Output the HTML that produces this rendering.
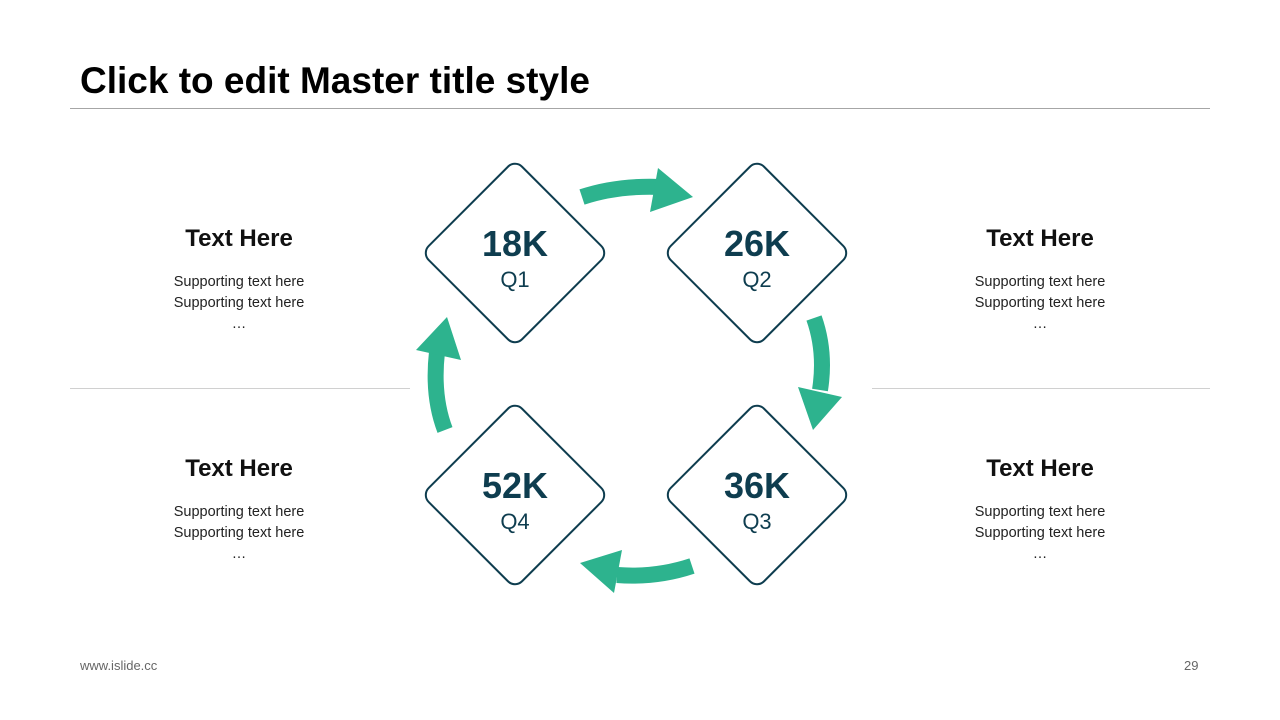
<!DOCTYPE html>
<html><head><meta charset="utf-8"><style>
body{margin:0;width:1280px;height:720px;background:#fff;font-family:"Liberation Sans",sans-serif;position:relative;overflow:hidden}
.t{position:absolute;font-weight:bold;font-size:37px;left:80px;top:60px;color:#000}
.h{position:absolute;width:300px;text-align:center;font-weight:bold;font-size:24px;color:#111}
.s{position:absolute;width:300px;text-align:center;font-size:14.5px;line-height:21px;color:#222}
.f{position:absolute;font-size:13px;color:#666;top:658px}
</style></head><body>
<div class="t">Click to edit Master title style</div>
<div style="position:absolute;left:70px;top:108px;width:1140px;height:1px;background:#a6a6a6"></div>
<div style="position:absolute;left:70px;top:388px;width:340px;height:1px;background:#d0d0d0"></div>
<div style="position:absolute;left:872px;top:388px;width:338px;height:1px;background:#d0d0d0"></div>

<div class="h" style="left:89px;top:225px">Text Here</div>
<div class="s" style="left:89px;top:272px">Supporting text here<br>Supporting text here<br>…</div>
<div class="h" style="left:890px;top:225px">Text Here</div>
<div class="s" style="left:890px;top:272px">Supporting text here<br>Supporting text here<br>…</div>
<div class="h" style="left:89px;top:455px">Text Here</div>
<div class="s" style="left:89px;top:502px">Supporting text here<br>Supporting text here<br>…</div>
<div class="h" style="left:890px;top:455px">Text Here</div>
<div class="s" style="left:890px;top:502px">Supporting text here<br>Supporting text here<br>…</div>

<svg width="1280" height="720" style="position:absolute;left:0;top:0">
<g fill="#fff" stroke="#0e3d4f" stroke-width="2" stroke-linejoin="round">
<rect x="449" y="187" width="132" height="132" rx="10" transform="rotate(45 515 253)"/>
<rect x="691" y="187" width="132" height="132" rx="10" transform="rotate(45 757 253)"/>
<rect x="449" y="429" width="132" height="132" rx="10" transform="rotate(45 515 495)"/>
<rect x="691" y="429" width="132" height="132" rx="10" transform="rotate(45 757 495)"/>
</g>
<g fill="none" stroke="#2db38e" stroke-width="16">
<path d="M582 197 Q618 185 662 187"/>
<path d="M814 318 Q826 352 820 390"/>
<path d="M692 566 Q656 578 617 575"/>
<path d="M445 430 Q432 396 437 352"/>
</g>
<g fill="#2db38e">
<polygon points="658,168 693,197 650,212"/>
<polygon points="798,387 842,397 813,430"/>
<polygon points="622,550 580,563 614,593"/>
<polygon points="416,350 447,317 461,360"/>
</g>
<g font-family="Liberation Sans,sans-serif" fill="#0e3d4f" text-anchor="middle">
<text x="515" y="256" font-size="36" font-weight="bold">18K</text>
<text x="515" y="287" font-size="22">Q1</text>
<text x="757" y="256" font-size="36" font-weight="bold">26K</text>
<text x="757" y="287" font-size="22">Q2</text>
<text x="515" y="498" font-size="36" font-weight="bold">52K</text>
<text x="515" y="529" font-size="22">Q4</text>
<text x="757" y="498" font-size="36" font-weight="bold">36K</text>
<text x="757" y="529" font-size="22">Q3</text>
</g>
</svg>
<div class="f" style="left:80px">www.islide.cc</div>
<div class="f" style="left:1184px">29</div>
</body></html>
